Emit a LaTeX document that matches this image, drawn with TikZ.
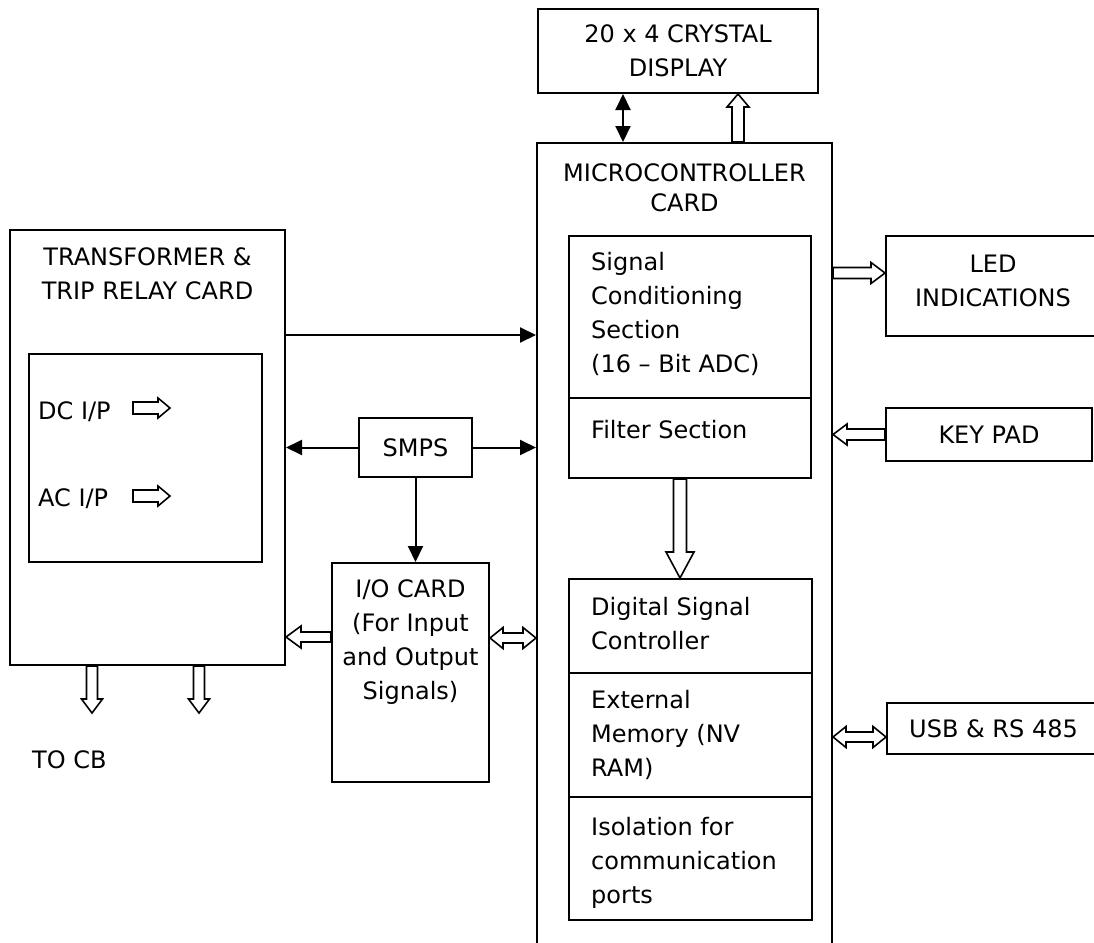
\documentclass[tikz,border=0pt]{standalone}
\usepackage{fontspec}
\setmainfont{DejaVu Sans}
\usetikzlibrary{arrows.meta,calc}

\newcommand{\hollowarrow}[5]{%
  \draw[hollow] ($(#1)!#3!90:(#2)$) -- ($(#2)!#5!(#1)!#3!90:(#2)$)
    -- ($(#2)!#5!(#1)!#4!90:(#2)$) -- (#2)
    -- ($(#2)!#5!(#1)!#4!-90:(#2)$) -- ($(#2)!#5!(#1)!#3!-90:(#2)$)
    -- ($(#1)!#3!-90:(#2)$) -- cycle;}
\newcommand{\hollowboth}[5]{%
  \draw[hollow] (#1) -- ($(#1)!#5!(#2)!#4!90:(#2)$) -- ($(#1)!#5!(#2)!#3!90:(#2)$)
    -- ($(#2)!#5!(#1)!#3!90:(#2)$) -- ($(#2)!#5!(#1)!#4!90:(#2)$) -- (#2)
    -- ($(#2)!#5!(#1)!#4!-90:(#2)$) -- ($(#2)!#5!(#1)!#3!-90:(#2)$)
    -- ($(#1)!#5!(#2)!#3!-90:(#2)$) -- ($(#1)!#5!(#2)!#4!-90:(#2)$) -- cycle;}

\begin{document}
\begin{tikzpicture}
  [x=1pt, y=-1pt,
    every node/.style={font=\fontsize{24}{34}\selectfont, inner sep=0pt},
    box/.style={draw, line width=2pt},
    txt/.style={align=left, anchor=north west},
    ctxt/.style={align=center, anchor=north},
    conn/.style={line width=2pt, -{Triangle[length=16pt,width=15pt]}},
    hollow/.style={draw, fill=white, line width=1.6pt, line join=miter},
]
  \useasboundingbox (0,0) rectangle (1094,942);

  \node[box, minimum width=280pt, minimum height=84pt, align=center] (disp) at (678,51) {20 x 4 CRYSTAL\\DISPLAY};
  \node[box, minimum width=295pt, minimum height=803pt] (mc) at (684.5,544.5) {};
  \node[ctxt, font=\fontsize{24}{30}\selectfont] (mctext) at (684.5,163) {MICROCONTROLLER\\CARD};

  \node[box, minimum width=242pt, minimum height=242pt] (sig) at (690,357) {};
  \draw[line width=2pt] (sig.west |- 0,398) -- (sig.east |- 0,398);
  \node[txt] (sigtext) at (591,252) {Signal\\Conditioning\\Section\\(16 – Bit ADC)};
  \node[txt] (filtext) at (591,420) {Filter Section};

  \node[box, minimum width=243pt, minimum height=341pt] (dsc) at (690.5,749.5) {};
  \draw[line width=2pt] (dsc.west |- 0,673) -- (dsc.east |- 0,673);
  \draw[line width=2pt] (dsc.west |- 0,797) -- (dsc.east |- 0,797);
  \node[txt] (dsctext) at (591,597) {Digital Signal\\Controller};
  \node[txt] (memtext) at (591,690) {External\\Memory (NV\\RAM)};
  \node[txt] (isotext) at (591,817) {Isolation for\\communication\\ports};

  \node[box, minimum width=275pt, minimum height=435pt] (tr) at (147.5,447.5) {};
  \node[ctxt] (trtext) at (147.5,247.5) {TRANSFORMER \&\\TRIP RELAY CARD};
  \node[box, minimum width=233pt, minimum height=208pt] (inp) at (145.5,458) {};
  \node[anchor=base west] (dc) at (38,419) {DC I/P};
  \node[anchor=base west] (ac) at (38,506) {AC I/P};
  \coordinate (dcs) at (133,408);
  \coordinate (dce) at (170,408);
  \coordinate (acs) at (133,496);
  \coordinate (ace) at (170,496);

  \node[box, minimum width=113pt, minimum height=59pt] (smps) at (415.5,447.5) {SMPS};
  \node[box, minimum width=157pt, minimum height=219pt] (io) at (410.5,672.5) {};
  \node[ctxt] (iotext) at (410.5,579) {I/O CARD\\(For Input\\and Output\\Signals)};

  \node[box, minimum width=214pt, minimum height=100pt] (led) at (993,286) {};
  \node[ctxt] (ledtext) at (993,255) {LED\\INDICATIONS};
  \node[box, minimum width=206pt, minimum height=53pt] (key) at (989,434.5) {KEY PAD};
  \node[box, minimum width=213pt, minimum height=51pt] (usb) at (993.5,728.5) {USB \& RS 485};

  \node[anchor=base west] (tocb) at (32,768) {TO CB};
  \coordinate (cb1) at (92,713);
  \coordinate (cb2) at (199,713);

  \draw[conn] (tr.east |- 0,335) -- (mc.west |- 0,335);
  \draw[conn] (smps.west) -- (tr.east |- smps.west);
  \draw[conn] (smps.east) -- (mc.west |- smps.east);
  \draw[conn] (smps.south) -- (io.north -| smps.south);
  \draw[conn, {Triangle[length=16pt,width=15pt]}-{Triangle[length=16pt,width=15pt]}] (disp.south -| 623,0) -- (mc.north -| 623,0);

  \hollowarrow{mc.north -| 738,0}{disp.south -| 738,0}{6pt}{11pt}{13pt}
  \hollowarrow{mc.east |- 0,273}{led.west |- 0,273}{5.5pt}{10.5pt}{14pt}
  \hollowarrow{key.west}{mc.east |- key.west}{5.5pt}{10.5pt}{14pt}
  \hollowboth{mc.east |- 0,737}{usb.west |- 0,737}{5pt}{10.5pt}{13pt}
  \hollowarrow{sig.south -| 680,0}{dsc.north -| 680,0}{6.5pt}{14pt}{26pt}
  \hollowarrow{io.west |- 0,637}{tr.east |- 0,637}{5pt}{11pt}{15pt}
  \hollowboth{io.east |- 0,638}{mc.west |- 0,638}{5pt}{10.5pt}{13pt}
  \hollowarrow{tr.south -| cb1}{cb1}{5.5pt}{10.5pt}{14pt}
  \hollowarrow{tr.south -| cb2}{cb2}{5.5pt}{10.5pt}{14pt}
  \hollowarrow{dcs}{dce}{6pt}{10pt}{12pt}
  \hollowarrow{acs}{ace}{6pt}{10pt}{12pt}
\end{tikzpicture}
\end{document}
